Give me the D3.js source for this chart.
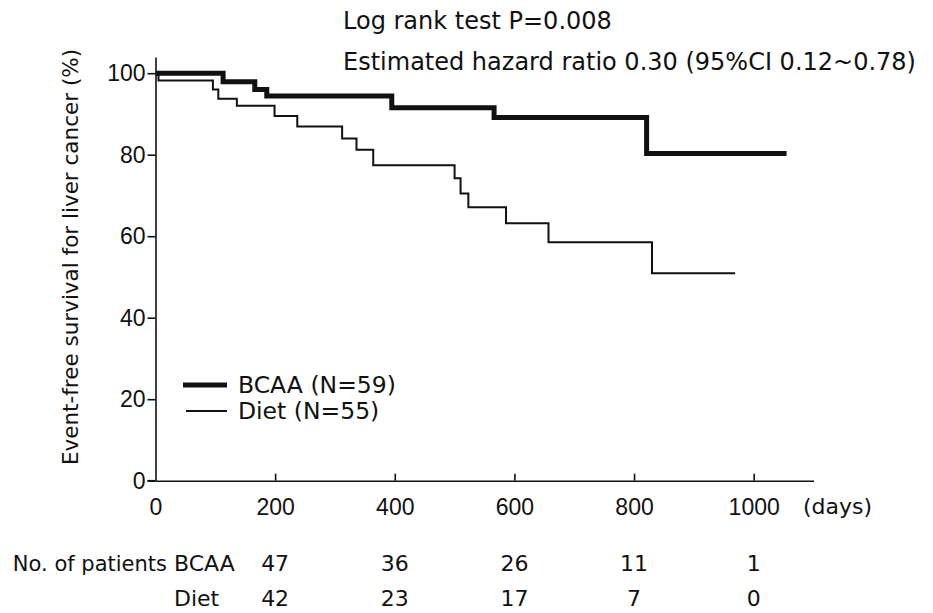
<!DOCTYPE html>
<html>
<head>
<meta charset="utf-8">
<script src="https://cdn.jsdelivr.net/npm/d3@7"></script>
<style>
  html, body { margin: 0; padding: 0; background: #fff; }
  svg { display: block; font-family: "DejaVu Sans", sans-serif; fill: #111; }
  .tick text { fill: #111; }
  .axis path, .axis line { stroke: #111; stroke-width: 1.6; }
</style>
</head>
<body>
<svg id="chart" width="933" height="613"></svg>
<script>
// Kaplan-Meier steps: [days, survival %]
var bcaaDays = [0, 113, 166, 186, 395, 566, 821, 1055];
var bcaaSurv = [100, 97.9, 96.0, 94.4, 91.5, 89.1, 80.3, 80.3];
var dietDays = [0, 5, 96, 105, 136, 199, 237, 312, 336, 364, 500, 510, 523, 586, 657, 830, 969];
var dietSurv = [100, 98.2, 96.0, 93.7, 92.0, 89.5, 86.9, 84.0, 81.2, 77.4, 74.2, 70.5, 67.1, 63.2, 58.5, 50.9, 50.9];

var xTicks = [0, 200, 400, 600, 800, 1000];
var yTicks = [0, 20, 40, 60, 80, 100];
var riskDays = [200, 400, 600, 800, 1000];
var riskBcaa = [47, 36, 26, 11, 1];
var riskDiet = [42, 23, 17, 7, 0];

var svg = d3.select('#chart');

var x = d3.scaleLinear().domain([0, 1100]).range([155.5, 813.5]);
var y = d3.scaleLinear().domain([0, 104]).range([480.7, 56.9]);

// y axis (ticks outward)
svg.append('g')
    .attr('class', 'axis')
    .attr('transform', 'translate(' + x(0) + ',0)')
    .call(d3.axisLeft(y).tickValues(yTicks).tickSize(8).tickSizeOuter(0).tickPadding(2))
    .call(function(g) { g.selectAll('text').attr('font-size', 23); });

// x axis (ticks pointing up into the plot)
var xAxis = svg.append('g')
    .attr('class', 'axis')
    .attr('transform', 'translate(0,' + y(0) + ')')
    .call(d3.axisBottom(x).tickValues(xTicks).tickFormat(d3.format('d'))
        .tickSize(-7).tickSizeOuter(0).tickPadding(18))
    .call(function(g) { g.selectAll('text').attr('font-size', 23); });
xAxis.selectAll('.tick line').filter(function(d) { return d === 0; }).remove();
// the x axis runs a little left of the y axis, like the original
xAxis.append('line')
    .attr('x1', x(0) - 8).attr('x2', x(0))
    .attr('stroke', '#111').attr('stroke-width', 1.6);

svg.append('text')
    .attr('x', 803).attr('y', y(0) + 18)
    .attr('dy', '0.71em')
    .attr('font-size', 22)
    .text('(days)');

// y label
svg.append('text')
    .attr('transform', 'translate(70,' + 257 + ') rotate(-90)')
    .attr('text-anchor', 'middle')
    .attr('dy', '0.35em')
    .attr('font-size', 21.5)
    .text('Event-free survival for liver cancer (%)');

// curves
var line = d3.line()
    .x(function(d) { return x(d[0]); })
    .y(function(d) { return y(d[1]); })
    .curve(d3.curveStepAfter);

var diet = d3.zip(dietDays, dietSurv);
var bcaa = d3.zip(bcaaDays, bcaaSurv);

svg.append('path')
    .datum(diet)
    .attr('d', line)
    .attr('fill', 'none')
    .attr('stroke', '#111')
    .attr('stroke-width', 2);

svg.append('path')
    .datum(bcaa)
    .attr('d', line)
    .attr('fill', 'none')
    .attr('stroke', '#111')
    .attr('stroke-width', 5);

// legend
var legend = [
    { label: 'BCAA (N=59)', width: 5, x1: 183, y: 385 },
    { label: 'Diet (N=55)', width: 2, x1: 186, y: 411 }
];
legend.forEach(function(l) {
    svg.append('line')
        .attr('x1', l.x1).attr('x2', 227)
        .attr('y1', l.y).attr('y2', l.y)
        .attr('stroke', '#111').attr('stroke-width', l.width);
    svg.append('text')
        .attr('x', 238).attr('y', l.y)
        .attr('dy', '0.35em')
        .attr('font-size', 23.5)
        .text(l.label);
});

// statistics
svg.append('text')
    .attr('x', 343).attr('y', 29)
    .attr('font-size', 24)
    .text('Log rank test P=0.008');
svg.append('text')
    .attr('x', 343).attr('y', 70)
    .attr('font-size', 24)
    .text('Estimated hazard ratio 0.30 (95%CI 0.12~0.78)');

// number at risk table
var rowY = [571, 606];
svg.append('text')
    .attr('x', 167).attr('y', rowY[0])
    .attr('text-anchor', 'end')
    .attr('font-size', 21)
    .text('No. of patients');
svg.append('text').attr('x', 174).attr('y', rowY[0]).attr('font-size', 22).text('BCAA');
svg.append('text').attr('x', 174).attr('y', rowY[1]).attr('font-size', 22).text('Diet');

[riskBcaa, riskDiet].forEach(function(row, i) {
    svg.selectAll(null)
        .data(row)
        .join('text')
        .attr('x', function(d, j) { return x(riskDays[j]); })
        .attr('y', rowY[i])
        .attr('text-anchor', 'middle')
        .attr('font-size', 22)
        .text(function(d) { return d; });
});
</script>
</body>
</html>
